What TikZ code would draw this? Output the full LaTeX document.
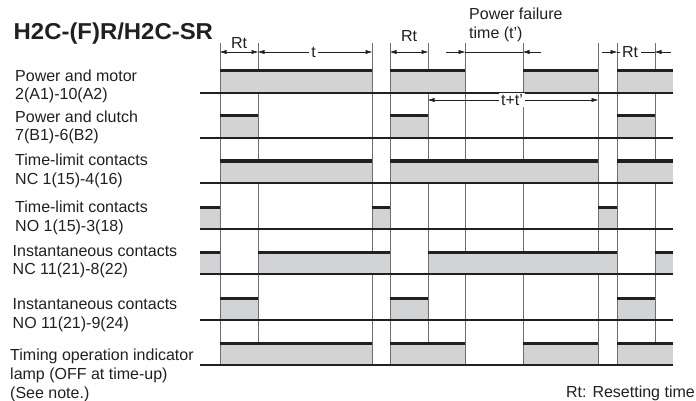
\documentclass[tikz,border=0pt]{standalone}
\usepackage{fontspec}
\setmainfont{Liberation Sans}
\usetikzlibrary{arrows.meta}
\definecolor{ink}{HTML}{231F20}
\definecolor{shadefill}{HTML}{D1D3D4}
\definecolor{gridc}{HTML}{6D6E71}
\tikzset{
  lbl/.style={anchor=base west, inner sep=0pt, font=\fontsize{16}{18}\selectfont, text=ink},
  dimtxt/.style={inner sep=0pt, font=\fontsize{16}{18}\selectfont, text=ink},
  gapdtxt/.style={fill=white, inner xsep=2.5pt, inner ysep=1pt, font=\fontsize{16}{18}\selectfont, text=ink},
  gridline/.style={draw=gridc, line width=0.8pt},
  edgeline/.style={draw=gridc, line width=0.9pt},
  baseln/.style={draw=ink, line width=1.2pt},
  hiline/.style={draw=ink, line width=3pt},
  dimline/.style={draw=ink, line width=0.7pt},
  tip/.style={-{Triangle[length=6.5pt,width=3.8pt]}},
  tips/.style={{Triangle[length=6.5pt,width=3.8pt]}-{Triangle[length=6.5pt,width=3.8pt]}}
}
% #1 = baseline y, #2 = start x, #3 = end x
\newcommand\sigbox[3]{%
  \fill[shadefill] (#2,#1) rectangle (#3,{#1-22});
  \draw[edgeline] (#2,#1) -- (#2,{#1-22}) (#3,#1) -- (#3,{#1-22});
  \draw[hiline] (#2,{#1-22}) -- (#3,{#1-22});
}
\newcommand\sigleft[3]{% no left edge
  \fill[shadefill] (#2,#1) rectangle (#3,{#1-22});
  \draw[edgeline] (#3,#1) -- (#3,{#1-22});
  \draw[hiline] (#2,{#1-22}) -- (#3,{#1-22});
}
\newcommand\sigright[3]{% no right edge
  \fill[shadefill] (#2,#1) rectangle (#3,{#1-22});
  \draw[edgeline] (#2,#1) -- (#2,{#1-22});
  \draw[hiline] (#2,{#1-22}) -- (#3,{#1-22});
}
\begin{document}
\begin{tikzpicture}[x=1pt,y=-1pt]
\useasboundingbox (0,0) rectangle (696,401);
% title
\node[anchor=base west, inner sep=0pt, font=\bfseries\fontsize{23}{26}\selectfont, text=ink, xscale=1.04] (title) at (13.5,39.5) {H2C-(F)R/H2C-SR};
% labels
\node[lbl] (l1a) at (15,82) {Power and motor};
\node[lbl] (l1b) at (15,100) {2(A1)-10(A2)};
\node[lbl] (l2a) at (15,122.5) {Power and clutch};
\node[lbl] (l2b) at (15,140.5) {7(B1)-6(B2)};
\node[lbl] (l3a) at (15,165) {Time-limit contacts};
\node[lbl] (l3b) at (15,184) {NC 1(15)-4(16)};
\node[lbl] (l4a) at (15,212) {Time-limit contacts};
\node[lbl] (l4b) at (15,231) {NO 1(15)-3(18)};
\node[lbl] (l5a) at (12.5,256) {Instantaneous contacts};
\node[lbl] (l5b) at (12.5,274) {NC 11(21)-8(22)};
\node[lbl] (l6a) at (12.5,309) {Instantaneous contacts};
\node[lbl] (l6b) at (12.5,328) {NO 11(21)-9(24)};
\node[lbl] (l7a) at (10,360) {Timing operation indicator};
\node[lbl] (l7b) at (10,379) {lamp (OFF at time-up)};
\node[lbl] (l7c) at (10,398) {(See note.)};
\node[anchor=base east, inner sep=0pt, font=\fontsize{16}{18}\selectfont, text=ink] (note) at (695,397) {Rt: Resetting time};
% grid lines
\foreach \x in {220,258,372,390,428,465,523,598,617,655}
  \draw[gridline] (\x,43) -- (\x,365);
% row 1: power and motor
\sigbox{93}{220}{372}
\sigbox{93}{390}{465}
\sigbox{93}{523}{598}
\sigright{93}{617}{673}
% row 2: power and clutch
\sigbox{138}{220}{258}
\sigbox{138}{390}{428}
\sigbox{138}{617}{655}
% row 3: time-limit NC
\sigbox{183}{220}{372}
\sigbox{183}{390}{598}
\sigright{183}{617}{673}
% row 4: time-limit NO
\sigleft{229}{200}{220}
\sigbox{229}{372}{390}
\sigbox{229}{598}{617}
% row 5: instantaneous NC
\sigleft{274}{200}{220}
\sigbox{274}{258}{390}
\sigbox{274}{428}{617}
\sigright{274}{655}{673}
% row 6: instantaneous NO
\sigbox{320}{220}{258}
\sigbox{320}{390}{428}
\sigbox{320}{617}{655}
% row 7: timing lamp
\sigbox{365}{220}{372}
\sigbox{365}{390}{465}
\sigbox{365}{523}{598}
\sigright{365}{617}{673}
% baselines
\foreach \y in {93,138,183,229,274,320,365}
  \draw[baseln] (200,\y) -- (673,\y);
% dimensions
\coordinate (r1a) at (220,52);
\coordinate (r1b) at (258,52);
\coordinate (ta) at (258,52);
\coordinate (tb) at (372,52);
\coordinate (r2a) at (390,52);
\coordinate (r2b) at (428,52);
\coordinate (pfa0) at (446,52);
\coordinate (pfa) at (465,52);
\coordinate (pfb) at (523,52);
\coordinate (pfb0) at (541,52);
\coordinate (r3a0) at (602,52);
\coordinate (r3a) at (617,52);
\coordinate (r3b) at (655,52);
\coordinate (r3b0) at (671,52);
\coordinate (tta) at (428,100);
\coordinate (ttb) at (598,100);
\draw[dimline,tips] (r1a) -- (r1b);
\node[dimtxt, anchor=base] (rt1) at (239,49) {Rt};
\draw[dimline,tips] (ta) -- (tb);
\node[gapdtxt] (tlbl) at (313.5,52) {t};
\draw[dimline,tips] (r2a) -- (r2b);
\node[dimtxt, anchor=base] (rt2) at (409,42) {Rt};
\draw[dimline,tip] (pfa0) -- (pfa);
\draw[dimline] (pfa) -- (pfb);
\draw[dimline,tip] (pfb0) -- (pfb);
\node[lbl] (pf1) at (469,20) {Power failure};
\node[lbl] (pf2) at (469,38.5) {time (t')};
\draw[dimline,tip] (r3a0) -- (r3a);
\draw[dimline] (r3a) -- (r3b);
\draw[dimline,tip] (r3b0) -- (r3b);
\node[gapdtxt] (rt3) at (630,52) {Rt};
\draw[dimline,tips] (tta) -- (ttb);
\node[gapdtxt] (ttlbl) at (512,100) {t+t'};
\end{tikzpicture}
\end{document}
